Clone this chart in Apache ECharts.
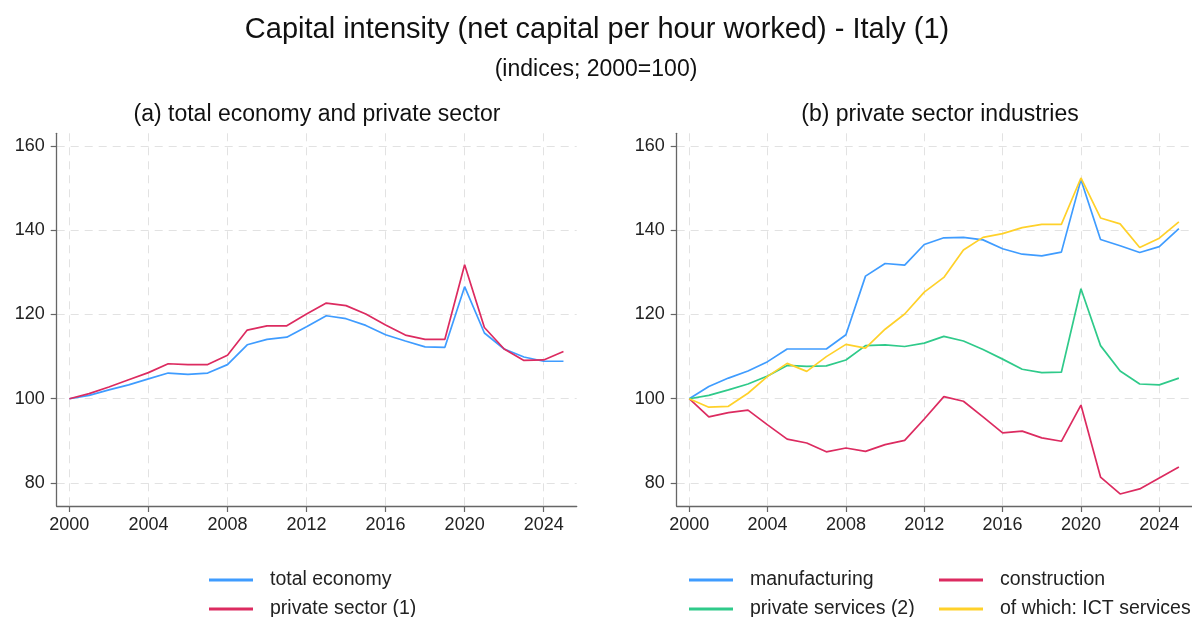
<!DOCTYPE html>
<html>
<head>
<meta charset="utf-8">
<script src="https://cdn.jsdelivr.net/npm/echarts@6/dist/echarts.min.js"></script>
<style>
html,body{margin:0;padding:0;background:#fff;}
#chart{width:1192px;height:617px;}
</style>
</head>
<body>
<div id="chart"></div>
<script>
// ---- data ----
const years = [2000,2001,2002,2003,2004,2005,2006,2007,2008,2009,2010,2011,2012,2013,2014,2015,2016,2017,2018,2019,2020,2021,2022,2023,2024,2025];
const totalEconomy   = [100,100.8,102.1,103.3,104.7,106.1,105.8,106.1,108.1,112.8,114.1,114.6,117.1,119.7,119.0,117.4,115.2,113.7,112.3,112.2,126.6,115.6,111.8,109.9,108.9,108.9];
const privateSector  = [100,101.2,102.8,104.5,106.2,108.3,108.1,108.1,110.3,116.3,117.3,117.3,120.1,122.7,122.1,120.1,117.5,115.1,114.1,114.1,131.8,116.9,111.8,109.1,109.2,111.2];
const manufacturing  = [100,102.9,104.9,106.6,108.8,111.8,111.8,111.8,115.2,129.1,132.1,131.7,136.6,138.2,138.3,137.7,135.6,134.3,133.9,134.8,152.0,137.8,136.3,134.7,136.1,140.4];
const construction   = [100,95.7,96.7,97.3,93.8,90.4,89.5,87.4,88.3,87.5,89.1,90.1,95.2,100.5,99.4,95.7,91.9,92.3,90.7,89.9,98.5,81.4,77.4,78.6,81.2,83.8];
const privateServices= [100,100.8,102.1,103.5,105.4,107.9,107.7,107.8,109.2,112.6,112.8,112.4,113.2,114.8,113.7,111.7,109.4,107.0,106.2,106.3,126.1,112.6,106.6,103.5,103.3,104.9];
const ictServices    = [100,98.0,98.2,101.3,105.3,108.4,106.5,110.0,112.9,112.0,116.5,120.1,125.3,128.8,135.3,138.3,139.2,140.6,141.4,141.4,152.4,142.9,141.5,135.9,138.1,142.0];
const xTicks = [2000,2004,2008,2012,2016,2020,2024];
const yTicks = [80,100,120,140,160];

const titleText = 'Capital intensity (net capital per hour worked) - Italy (1)';
const subtitleText = '(indices; 2000=100)';
const panelA = '(a) total economy and private sector';
const panelB = '(b) private sector industries';

// ---- styling ----
const FONT = '"Liberation Sans", Arial, sans-serif';
const C_BLUE = '#3f9cff', C_RED = '#dc2b60', C_GREEN = '#2fca8a', C_YEL = '#ffd12a';
const AXIS_COL = '#666';
const pairs = arr => years.map((y,i)=>[y,arr[i]]);

function xAxisDef(idx){
  return {
    type:'value', gridIndex:idx, min:1999.36, max:2025.67,
    axisLine:{show:true, onZero:false, lineStyle:{color:AXIS_COL, width:1.3}},
    axisTick:{show:true, length:6, lineStyle:{color:AXIS_COL, width:1.2}, customValues:xTicks},
    axisLabel:{customValues:xTicks, formatter:v=>String(v), color:'#222', fontSize:18, fontFamily:FONT, margin:10},
    splitLine:{show:true, lineStyle:{color:'#e2e2e2', type:[8,6], width:1}}
  };
}
function yAxisDef(idx){
  return {
    type:'value', gridIndex:idx, min:74.54, max:163.0,
    axisLine:{show:true, onZero:false, lineStyle:{color:AXIS_COL, width:1.3}},
    axisTick:{show:true, length:6, lineStyle:{color:AXIS_COL, width:1.2}, customValues:yTicks},
    axisLabel:{customValues:yTicks, formatter:v=>String(v), color:'#222', fontSize:18, fontFamily:FONT, margin:12},
    splitLine:{show:true, lineStyle:{color:'#e2e2e2', type:[8,6], width:1}}
  };
}
function lineSeries(name, data, color, idx){
  return {name, type:'line', xAxisIndex:idx, yAxisIndex:idx, data:pairs(data),
    showSymbol:false, symbol:'none', lineStyle:{color, width:1.7}, itemStyle:{color}, z:2};
}
const legendText = {fontSize:19.5, fontFamily:FONT, color:'#222', padding:[0,0,0,12], lineHeight:20};
function legendItem(left, top, name){
  return {orient:'horizontal', left, top, itemWidth:44, itemHeight:3, icon:'rect', padding:0,
    textStyle:legendText, data:[name], selectedMode:false};
}
const ROW1 = 570, ROW2 = 599;

const chart = echarts.init(document.getElementById('chart'), null, {renderer:'canvas'});
chart.setOption({
  backgroundColor:'#fff',
  animation:false,
  grid:[
    {left:56.7, top:133.3, width:520, height:372.7},
    {left:676.7, top:133.3, width:526, height:372.7}
  ],
  xAxis:[xAxisDef(0), xAxisDef(1)],
  yAxis:[yAxisDef(0), yAxisDef(1)],
  legend:[
    legendItem(209, ROW1, 'total economy'),
    legendItem(209, ROW2, 'private sector (1)'),
    legendItem(689, ROW1, 'manufacturing'),
    legendItem(689, ROW2, 'private services (2)'),
    legendItem(939, ROW1, 'construction'),
    legendItem(939, ROW2, 'of which: ICT services')
  ],
  graphic:[
    {type:'text', x:597, y:30, style:{text:titleText, fontSize:29, fontFamily:FONT, fill:'#111', align:'center', verticalAlign:'middle'}},
    {type:'text', x:596, y:70, style:{text:subtitleText, fontSize:23, fontFamily:FONT, fill:'#111', align:'center', verticalAlign:'middle'}},
    {type:'text', x:317, y:115, style:{text:panelA, fontSize:23, fontFamily:FONT, fill:'#111', align:'center', verticalAlign:'middle'}},
    {type:'text', x:940, y:115, style:{text:panelB, fontSize:23, fontFamily:FONT, fill:'#111', align:'center', verticalAlign:'middle'}}
  ],
  series:[
    lineSeries('total economy', totalEconomy, C_BLUE, 0),
    lineSeries('private sector (1)', privateSector, C_RED, 0),
    lineSeries('manufacturing', manufacturing, C_BLUE, 1),
    lineSeries('construction', construction, C_RED, 1),
    lineSeries('private services (2)', privateServices, C_GREEN, 1),
    lineSeries('of which: ICT services', ictServices, C_YEL, 1)
  ]
});
</script>
</body>
</html>
